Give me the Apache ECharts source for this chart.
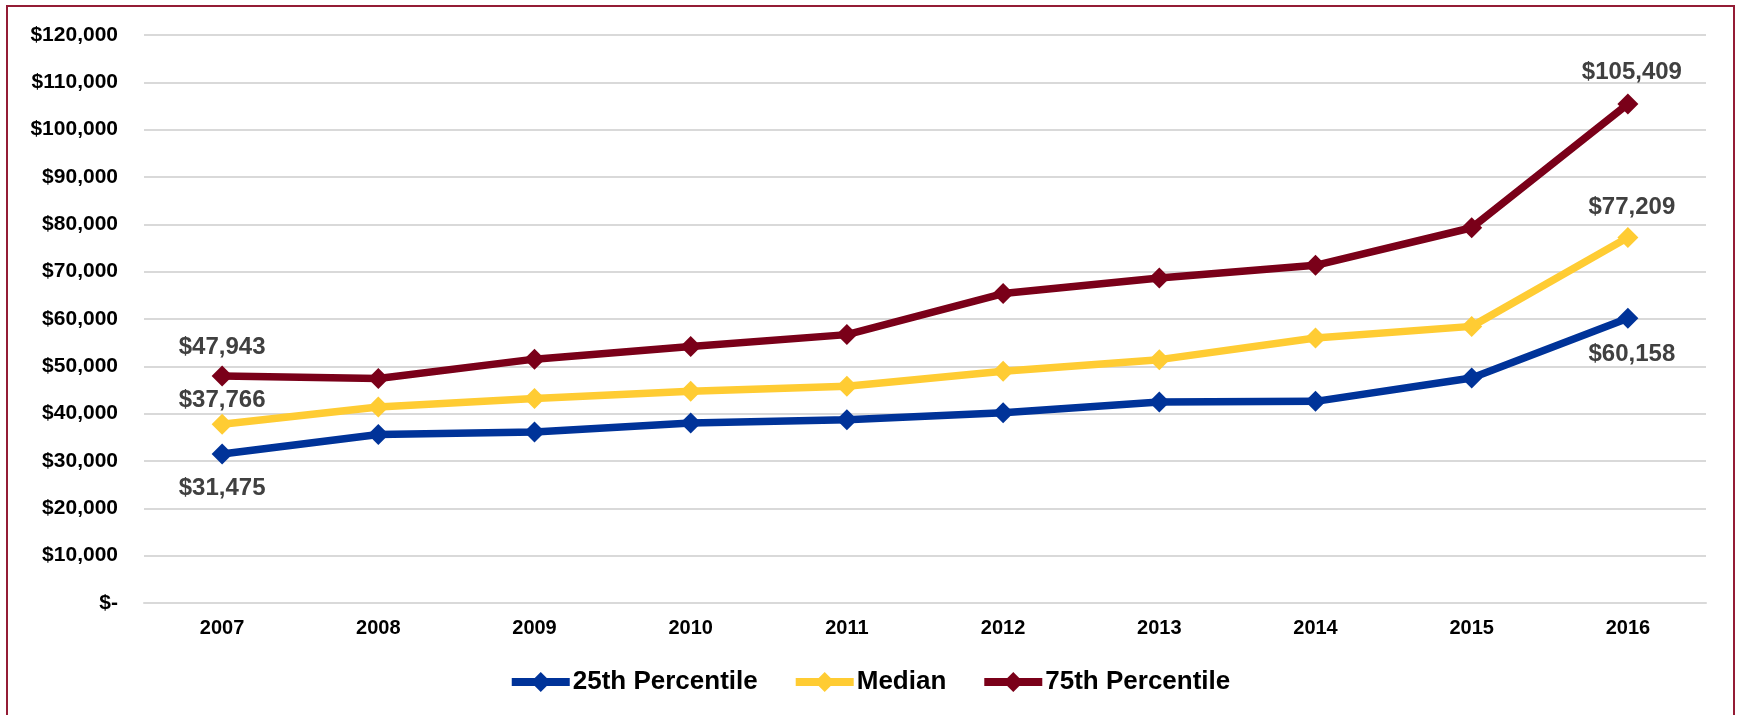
<!DOCTYPE html>
<html>
<head>
<meta charset="utf-8">
<script src="https://cdn.jsdelivr.net/npm/echarts@6/dist/echarts.min.js"></script>
<style>
  html, body { margin: 0; padding: 0; background: #fff; }
  #main { width: 1738px; height: 715px; }
</style>
</head>
<body>
<div id="main"></div>
<script>
// 数据
const years = ['2007', '2008', '2009', '2010', '2011', '2012', '2013', '2014', '2015', '2016']
const p25 = [31475, 35590, 36140, 38040, 38730, 40210, 42450, 42600, 47550, 60158]
const median = [37766, 41430, 43200, 44750, 45770, 48940, 51410, 55980, 58440, 77209]
const p75 = [47943, 47440, 51520, 54210, 56700, 65370, 68670, 71350, 79280, 105409]

const font = 'Arial, "Liberation Sans", sans-serif'
const money = v => '$' + Math.round(v).toLocaleString('en-US')

// 只给首尾两个点加数据标签
function withLabels (values, pos, firstDist, lastDist) {
  return values.map((v, i) => {
    const first = i === 0
    if (!first && i !== values.length - 1) return v
    return {
      value: v,
      label: {
        show: true,
        position: pos,
        distance: first ? firstDist : lastDist,
        offset: first ? [0, 0] : [4, 0],
        formatter: p => money(p.value),
        color: '#404040',
        fontSize: 24,
        fontWeight: 'bold',
        fontFamily: font
      }
    }
  })
}

function makeSeries (name, values, color, pos, firstDist, lastDist) {
  return {
    name: name,
    type: 'line',
    data: withLabels(values, pos, firstDist, lastDist),
    symbol: 'diamond',
    symbolSize: 21,
    lineStyle: { width: 7.5, color: color },
    itemStyle: { color: color },
    label: { show: false }
  }
}

const myChart = echarts.init(document.getElementById('main'))

const option = {
  animation: false,
  backgroundColor: '#fff',
  grid: { left: 144, right: 32, top: 35, bottom: 112, outerBoundsMode: 'none' },
  graphic: [{
    type: 'rect',
    shape: { x: 7, y: 6, width: 1727, height: 730 },
    style: { fill: 'none', stroke: '#941c35', lineWidth: 2 },
    silent: true
  }],
  legend: {
    bottom: 15,
    left: 'center',
    itemWidth: 58,
    itemHeight: 25,
    itemGap: 34,
    lineStyle: { width: 8 },
    textStyle: { fontSize: 26, fontWeight: 'bold', color: '#000', fontFamily: font, padding: [0, 0, 0, -2] },
    data: ['25th Percentile', 'Median', '75th Percentile']
  },
  xAxis: {
    type: 'category',
    data: years,
    boundaryGap: true,
    axisLine: { lineStyle: { color: '#d9d9d9', width: 2 } },
    axisTick: { show: false },
    axisLabel: { fontSize: 20, fontWeight: 'bold', color: '#000', fontFamily: font, margin: 15 }
  },
  yAxis: {
    type: 'value',
    min: 0,
    max: 120000,
    interval: 10000,
    axisLine: { show: false },
    axisTick: { show: false },
    splitLine: { lineStyle: { color: '#d9d9d9', width: 2 } },
    axisLabel: {
      fontSize: 21,
      fontWeight: 'bold',
      color: '#000',
      fontFamily: font,
      margin: 26,
      formatter: v => v === 0 ? '$-' : money(v)
    }
  },
  series: [
    makeSeries('25th Percentile', p25, '#003399', 'bottom', 12, 14),
    makeSeries('Median', median, '#ffcc33', 'top', 1, 8),
    makeSeries('75th Percentile', p75, '#7a0019', 'top', 6, 9)
  ]
}

myChart.setOption(option)
</script>
</body>
</html>
